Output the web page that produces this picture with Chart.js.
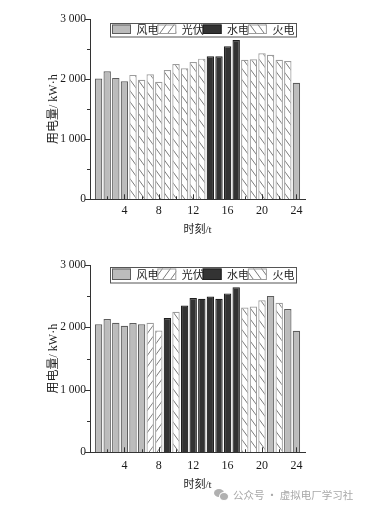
<!DOCTYPE html>
<html>
<head>
<meta charset="utf-8">
<script src="https://cdn.jsdelivr.net/npm/chart.js@4/dist/chart.umd.min.js"></script>
<style>
  html, body { margin: 0; padding: 0; background: #ffffff; }
  #wrap { position: relative; width: 368px; height: 509px; overflow: hidden; }
  #c1 { position: absolute; left: 0; top: 0; }
  #c2 { position: absolute; left: 0; top: 250px; }
  #wm { position: absolute; left: 233px; top: 487px; font: 10.5px "Noto Sans CJK SC", sans-serif; color: #a8a8a8; line-height: 15px; white-space: nowrap; }
  .bub { position: absolute; background: #b0b0b0; border-radius: 50%; }
</style>
</head>
<body>
<div id="wrap">
  <canvas id="c1" width="368" height="250" style="width:368px;height:250px"></canvas>
  <canvas id="c2" width="368" height="259" style="width:368px;height:259px"></canvas>
  <div class="bub" style="left:214px;top:489px;width:10px;height:8px;"></div>
  <div class="bub" style="left:219px;top:492px;width:8px;height:7px;border:1px solid #fff;"></div>
  <div id="wm">公众号 · 虚拟电厂学习社</div>
</div>
<script>
// ---------------- data ----------------
const hours = [1,2,3,4,5,6,7,8,9,10,11,12,13,14,15,16,17,18,19,20,21,22,23,24];
const sourceNames = ['风电', '光伏', '水电', '火电'];

const topValues = [2010,2130,2020,1965,2070,1990,2080,1955,2150,2250,2180,2285,2340,2380,2380,2545,2650,2320,2330,2430,2405,2320,2300,1940];
const topSources = ['风电','风电','风电','风电','火电','火电','火电','火电','火电','火电','火电','火电','火电','水电','水电','水电','水电','火电','火电','火电','火电','火电','火电','风电'];

const bottomValues = [2050,2135,2075,2025,2070,2050,2075,1950,2150,2250,2350,2470,2460,2495,2460,2545,2645,2320,2335,2435,2505,2395,2295,1945];
const bottomSources = ['风电','风电','风电','风电','风电','风电','光伏','光伏','水电','火电','水电','水电','水电','水电','水电','水电','水电','火电','火电','火电','风电','火电','风电','风电'];

const yTicks = [0, 1000, 2000, 3000];
const xTicks = [4, 8, 12, 16, 20, 24];
const xTitle = '时刻/t';
const yTitle = '用电量/ kW·h';

// ---------------- styles ----------------
function hatch(dir) {
  const w = 8, h = 11;
  const c = document.createElement('canvas');
  c.width = w; c.height = h;
  const g = c.getContext('2d');
  g.fillStyle = '#ffffff';
  g.fillRect(0, 0, w, h);
  g.strokeStyle = '#7a7a7a';
  g.lineWidth = 1;
  g.beginPath();
  for (let k = -1; k <= 1; k++) {
    if (dir === '/') { g.moveTo(k * w, h); g.lineTo(k * w + w, 0); }
    else { g.moveTo(k * w, 0); g.lineTo(k * w + w, h); }
  }
  g.stroke();
  return g.createPattern(c, 'repeat');
}
const styleOf = {
  '风电': { fill: '#bcbcbc', border: '#5e5e5e' },
  '光伏': { fill: hatch('/'), border: '#9c9c9c' },
  '水电': { fill: '#333333', border: '#1e1e1e' },
  '火电': { fill: hatch('\\'), border: '#9c9c9c' }
};

const SERIF = '"Liberation Serif", "Noto Sans CJK SC", serif';

function fmt(v) {
  if (v < 1000) return String(v);
  return Math.floor(v / 1000) + ' ' + String(v % 1000).padStart(3, '0');
}

// ---------------- plugins ----------------
const tickPlugin = {
  id: 'tickMarks',
  afterDatasetsDraw(chart) {
    const { ctx, chartArea, scales: { x, y } } = chart;
    ctx.save();
    ctx.strokeStyle = '#333';
    ctx.lineWidth = 1;
    ctx.beginPath();
    for (let v = 2; v <= 24; v += 2) {
      const px = Math.round(x.getPixelForValue(v)) + 0.5;
      const len = xTicks.includes(v) ? 5 : 3;
      ctx.moveTo(px, chartArea.bottom);
      ctx.lineTo(px, chartArea.bottom - len);
    }
    for (let v = 0; v <= 3000; v += 500) {
      const py = Math.round(y.getPixelForValue(v)) + 0.5;
      const len = yTicks.includes(v) ? 5 : 3;
      ctx.moveTo(chartArea.left, py);
      ctx.lineTo(chartArea.left - len, py);
    }
    ctx.stroke();
    ctx.restore();
  }
};

const legendPlugin = {
  id: 'boxLegend',
  afterDraw(chart, args, opts) {
    const { ctx, chartArea } = chart;
    const left = chartArea.left + 20, top = chartArea.top + opts.dy, h = opts.h, w = 186;
    ctx.save();
    ctx.fillStyle = '#fff';
    ctx.fillRect(left, top, w, h);
    ctx.strokeStyle = '#555';
    ctx.lineWidth = 1;
    ctx.strokeRect(Math.round(left) + 0.5, Math.round(top) + 0.5, w, h);
    chart.data.datasets.forEach((ds, i) => {
      const sx = left + 2 + i * 45.3;
      const sy = top + 2;
      ctx.fillStyle = ds.backgroundColor;
      ctx.fillRect(sx, sy, 19, h - 4);
      ctx.strokeStyle = ds.borderColor;
      ctx.strokeRect(sx + 0.5, sy + 0.5, 18, h - 5);
      ctx.fillStyle = '#222';
      ctx.font = '11px "Noto Sans CJK SC", sans-serif';
      ctx.textBaseline = 'middle';
      ctx.fillText(ds.label, sx + 24.5, top + h / 2 + 0.5);
    });
    ctx.restore();
  }
};

// ---------------- chart builder ----------------
function build(canvasId, values, sources, lay) {
  const datasets = sourceNames.map(name => ({
    label: name,
    data: hours.map((hr, i) => ({ x: hr, y: sources[i] === name ? values[i] : null })),
    backgroundColor: styleOf[name].fill,
    borderColor: styleOf[name].border,
    borderWidth: 1.2,
    barPercentage: 0.86,
    categoryPercentage: 1.0
  }));
  return new Chart(document.getElementById(canvasId), {
    type: 'bar',
    data: { datasets },
    options: {
      responsive: false,
      animation: false,
      devicePixelRatio: 1,
      layout: { padding: { left: 47, right: 63, top: lay.top, bottom: lay.bottom } },
      plugins: {
        legend: { display: false },
        tooltip: { enabled: false },
        boxLegend: { dy: lay.legDy, h: lay.legH }
      },
      scales: {
        x: {
          type: 'linear',
          stacked: true,
          offset: false,
          min: 0,
          max: 25,
          afterFit: s => { s.height = lay.xh; s.paddingLeft = 0; s.paddingRight = 0; },
          afterBuildTicks: s => { s.ticks = xTicks.map(v => ({ value: v })); },
          grid: { display: false, offset: false, drawTicks: false },
          border: { display: true, color: '#333', width: 1 },
          ticks: { color: '#1a1a1a', padding: lay.xpad, maxRotation: 0, autoSkip: false,
                   font: { family: SERIF, size: 12 } },
          title: { display: true, text: xTitle, color: '#222', padding: 0,
                   font: { family: SERIF, size: 11 } }
        },
        y: {
          stacked: true,
          min: 0,
          max: 3000,
          afterFit: s => { s.width = 43; s.paddingTop = 0; s.paddingBottom = 0; },
          afterBuildTicks: s => { s.ticks = yTicks.map(v => ({ value: v })); },
          grid: { display: false, drawTicks: false },
          border: { display: true, color: '#333', width: 1 },
          ticks: { color: '#1a1a1a', padding: 4, callback: v => fmt(v),
                   font: { family: SERIF, size: 11.5 } },
          title: { display: true, text: yTitle, color: '#222', padding: 0,
                   font: { family: SERIF, size: 12 } }
        }
      }
    },
    plugins: [tickPlugin, legendPlugin]
  });
}

build('c1', topValues, topSources, { top: 19, bottom: 13, xh: 37.7, xpad: 4, legDy: 3.5, legH: 13.5 });
build('c2', bottomValues, bottomSources, { top: 15, bottom: 17.4, xh: 39.3, xpad: 6, legDy: 1.5, legH: 15.5 });
</script>
</body>
</html>
